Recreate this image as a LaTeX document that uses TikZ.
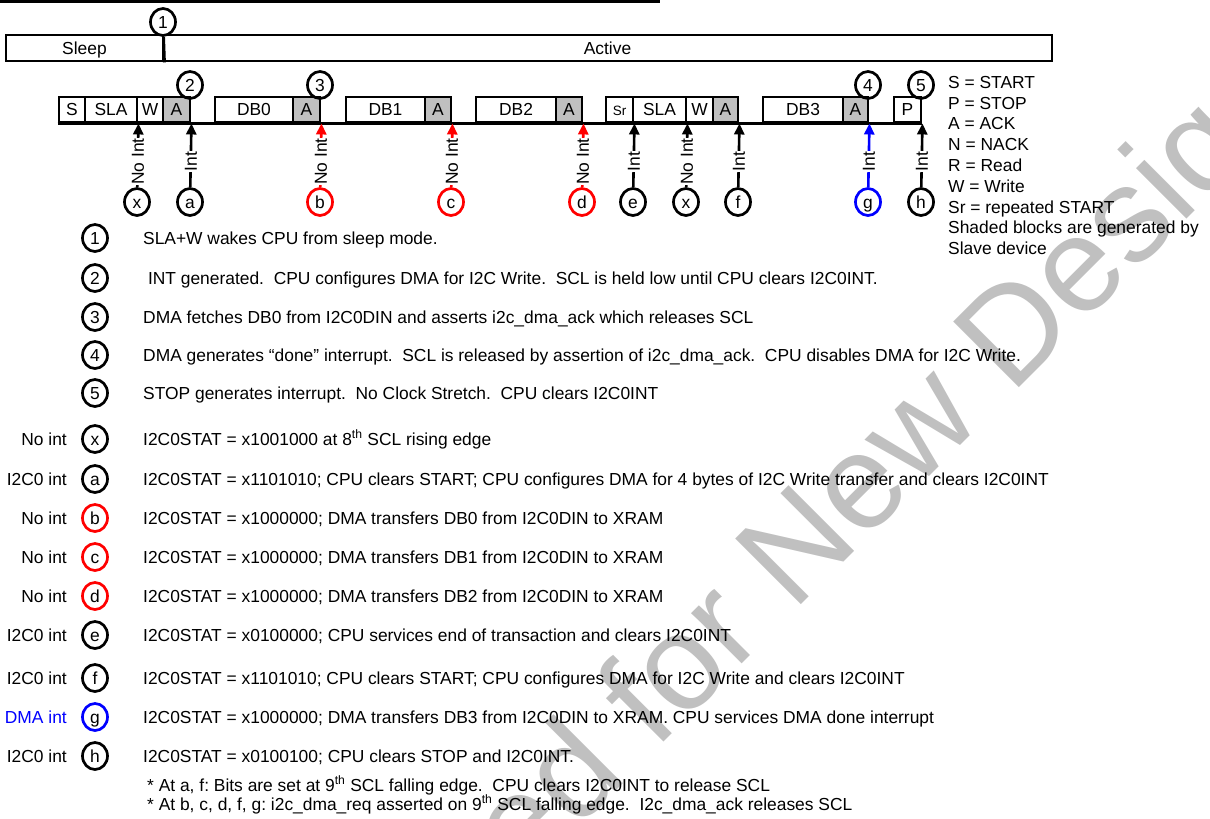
\documentclass[tikz,border=0pt]{standalone}
\usepackage{fontspec}
\setmainfont{Liberation Sans}
\usetikzlibrary{arrows.meta, positioning, shapes.geometric}
\definecolor{ackgray}{RGB}{192,192,192}
\definecolor{wmgray}{RGB}{192,192,192}
\newcommand{\fs}{\fontsize{17.4}{20}\selectfont}
\newcommand{\fsm}{\fontsize{13.5}{15}\selectfont}
\frenchspacing

\tikzset{
  field/.style={draw, line width=2.9pt, minimum height=25pt, inner sep=0pt, font=\fs, text height=12.4pt, text depth=0pt},
  ackfield/.style={field, fill=ackgray},
  tagcirc/.style={draw, ellipse, line width=2.7pt, minimum width=25pt, minimum height=27pt, inner sep=0pt, font=\fs, text height=12.4pt, text depth=0pt},
  busarrow/.style={line width=2.6pt, -{Triangle[width=10pt,length=11pt]}},
  arrlbl/.style={pos=0.4, rotate=90, fill=white, inner sep=0.6pt, font=\fs, text=black, text height=12.4pt, text depth=0pt},
  txt/.style={anchor=west, inner sep=0pt, font=\fs, text height=12.4pt, text depth=0pt},
  lefttxt/.style={anchor=east, inner sep=0pt, font=\fs, text height=12.4pt, text depth=0pt}
}

\begin{document}
\begin{tikzpicture}[x=1pt, y=-1pt]
  \useasboundingbox (0,0) rectangle (1210,819);

  % watermark
  \begin{scope}
    \clip (0,0) rectangle (1210,819);
    \node[rotate=45, text=wmgray, font=\fontsize{135}{135}\selectfont, inner sep=0pt] (wm) at (557,800) {Not Recommended for New Designs};
  \end{scope}

  % top rule
  \draw[line width=2.8pt] (0,1.4) -- (660,1.4);

  % sleep / active bar
  \node[field, minimum width=157pt, minimum height=26pt] (sleep) at (84.5,48) {Sleep};
  \node[field, minimum width=889pt, minimum height=26pt] (active) at (607.5,48) {Active};
  \node[tagcirc] (n1) at (163,22) {1};
  \draw[line width=2.9pt] (n1) -- (sleep.south east);

  % I2C frame
  \foreach \name/\xa/\xb/\t/\st in {fs1/59/85/S/field, fsla1/85/137/SLA/field, fw1/137/163/W/field, fa1/163/190/A/ackfield,
      fdb0/215/293/DB0/field, fa2/293/320/A/ackfield, fdb1/346/425/DB1/field, fa3/425/451/A/ackfield,
      fdb2/476/556/DB2/field, fa4/556/582/A/ackfield, fsr/606/633/{\fsm Sr}/field, fsla2/633/686/SLA/field,
      fw2/686/713/W/field, fa5/713/738/A/ackfield, fdb3/763/843/DB3/field, fa6/843/868/A/ackfield, fp/894/921/P/field}
    \node[\st, minimum width={(\xb-\xa)*1pt}] (\name) at ({(\xa+\xb)/2},109.5) {\t};
  \draw[line width=2.9pt] (fs1.south west) -- (fp.south east);

  \node[tagcirc] (n2) at (190,85) {2};
  \node[tagcirc] (n3) at (320,85) {3};
  \node[tagcirc] (n4) at (868,85) {4};
  \node[tagcirc] (n5) at (921,85) {5};

  % interrupt points
  \foreach \name/\x/\t/\col/\lab/\tgt in {tx1/137/x/black/No Int/fsla1, ta/190/a/black/Int/fa1, tb/320/b/red/No Int/fa2,
      tc/451/c/red/No Int/fa3, td/582/d/red/No Int/fa4, te/633/e/black/Int/fsr, tx2/686/x/black/No Int/fsla2,
      tf/738/f/black/Int/fa5, tg/868/g/blue/Int/fa6, th/921/h/black/Int/fp} {
    \node[tagcirc, draw=\col] (\name) at (\x,202) {\t};
    \draw[busarrow, \col] (\name) -- node[arrlbl] {\lab} (\tgt.south east);
  }

  % legend
  \foreach \t [count=\i] in {S = START, P = STOP, A = ACK, N = NACK, R = Read, W = Write, Sr = repeated START,
      Shaded blocks are generated by, Slave device}
    \node[txt] (leg\i) at (948,{82+20.8*(\i-1)}) {\t};

  % numbered notes
  \node[tagcirc] (d1) at (95,238) {1};
  \node[txt] (d1t) at (143,238) {SLA+W wakes CPU from sleep mode.};
  \node[tagcirc] (d2) at (95,278) {2};
  \node[txt] (d2t) at (143,278) {\ INT generated.\ \ CPU configures DMA for I2C Write.\ \ SCL is held low until CPU clears I2C0INT.};
  \node[tagcirc] (d3) at (95,317) {3};
  \node[txt] (d3t) at (143,317) {DMA fetches DB0 from I2C0DIN and asserts i2c\_dma\_ack which releases SCL};
  \node[tagcirc] (d4) at (95,355) {4};
  \node[txt] (d4t) at (143,355) {DMA generates “done” interrupt.\ \ SCL is released by assertion of i2c\_dma\_ack.\ \ CPU disables DMA for I2C Write.};
  \node[tagcirc] (d5) at (95,393) {5};
  \node[txt] (d5t) at (143,393) {STOP generates interrupt.\ \ No Clock Stretch.\ \ CPU clears I2C0INT};

  % status rows
  \node[lefttxt] (sxl) at (67,439) {No int};
  \node[tagcirc] (sx) at (95,439) {x};
  \node[txt] (sxt) at (143,439) {I2C0STAT = x1001000 at 8\textsuperscript{th} SCL rising edge};

  \node[lefttxt] (sal) at (67,479) {I2C0 int};
  \node[tagcirc] (sa) at (95,479) {a};
  \node[txt] (sat) at (143,479) {I2C0STAT = x1101010; CPU clears START; CPU configures DMA for 4 bytes of I2C Write transfer and clears I2C0INT};

  \node[lefttxt] (sbl) at (67,518) {No int};
  \node[tagcirc, draw=red] (sb) at (95,518) {b};
  \node[txt] (sbt) at (143,518) {I2C0STAT = x1000000; DMA transfers DB0 from I2C0DIN to XRAM};

  \node[lefttxt] (scl) at (67,557) {No int};
  \node[tagcirc, draw=red] (sc) at (95,557) {c};
  \node[txt] (sct) at (143,557) {I2C0STAT = x1000000; DMA transfers DB1 from I2C0DIN to XRAM};

  \node[lefttxt] (sdl) at (67,596) {No int};
  \node[tagcirc, draw=red] (sd) at (95,596) {d};
  \node[txt] (sdt) at (143,596) {I2C0STAT = x1000000; DMA transfers DB2 from I2C0DIN to XRAM};

  \node[lefttxt] (sel) at (67,635) {I2C0 int};
  \node[tagcirc] (se) at (95,635) {e};
  \node[txt] (set) at (143,635) {I2C0STAT = x0100000; CPU services end of transaction and clears I2C0INT};

  \node[lefttxt] (sfl) at (67,678) {I2C0 int};
  \node[tagcirc] (sf) at (95,678) {f};
  \node[txt] (sft) at (143,678) {I2C0STAT = x1101010; CPU clears START; CPU configures DMA for I2C Write and clears I2C0INT};

  \node[lefttxt, text=blue] (sgl) at (67,717) {DMA int};
  \node[tagcirc, draw=blue] (sg) at (95,717) {g};
  \node[txt] (sgt) at (143,717) {I2C0STAT = x1000000; DMA transfers DB3 from I2C0DIN to XRAM. CPU services DMA done interrupt};

  \node[lefttxt] (shl) at (67,756) {I2C0 int};
  \node[tagcirc] (sh) at (95,756) {h};
  \node[txt] (sht) at (143,756) {I2C0STAT = x0100100; CPU clears STOP and I2C0INT.};

  % footnotes
  \node[txt] (fn1) at (147,785) {* At a, f: Bits are set at 9\textsuperscript{th} SCL falling edge.\ \ CPU clears I2C0INT to release SCL};
  \node[txt] (fn2) at (147,804) {* At b, c, d, f, g: i2c\_dma\_req asserted on 9\textsuperscript{th} SCL falling edge.\ \ I2c\_dma\_ack releases SCL};
\end{tikzpicture}
\end{document}
